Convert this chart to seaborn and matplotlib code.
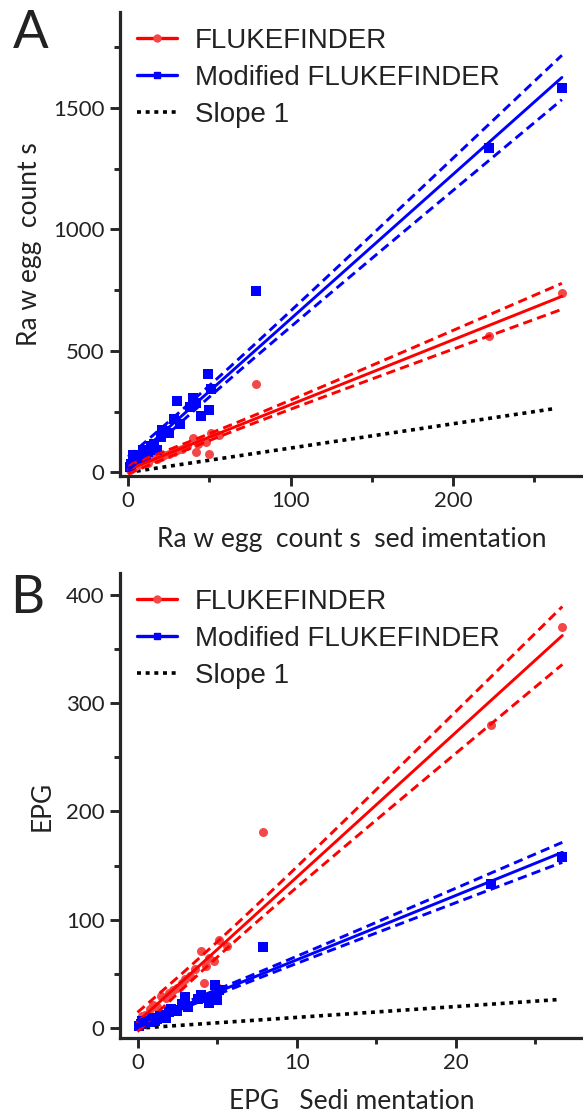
import numpy as np
import matplotlib
matplotlib.use("Agg")
import matplotlib.pyplot as plt
from matplotlib.lines import Line2D
from matplotlib.ticker import MultipleLocator
import seaborn as sns

# ---- data ----
# panel A: raw egg counts, sedimentation (x) vs flotation methods (y)
raw_sed_ff = [1, 3, 5, 8, 10, 12, 15, 18, 20, 22, 25, 28, 30, 33, 36, 40, 42, 43,
              45, 48, 50, 51, 56, 79, 222, 267]
raw_ff = [8, 22, 25, 35, 42, 40, 60, 55, 65, 70, 75, 84, 90, 97, 110, 143, 84, 115,
          130, 125, 77, 162, 152, 362, 560, 740]
raw_sed_mod = [1, 2, 3, 5, 8, 9, 11, 12, 14, 16, 18, 20, 21, 22, 25, 28, 30, 32, 38,
               40, 42, 45, 49, 50, 51, 79, 222, 267]
raw_mod = [20, 35, 70, 45, 60, 91, 63, 85, 110, 118, 91, 146, 176, 170, 160, 220, 292,
           200, 270, 308, 284, 231, 404, 256, 345, 746, 1335, 1582]

# panel B: eggs per gram
epg_sed_ff = [0.1, 0.3, 0.5, 0.8, 1.0, 1.2, 1.5, 1.8, 2.0, 2.2, 2.5, 2.8, 3.0, 3.3,
              3.6, 4.0, 4.2, 4.3, 4.5, 4.8, 5.0, 5.1, 5.6, 7.9, 22.2, 26.7]
epg_ff = [4, 11, 12.5, 17.5, 21, 20, 30, 27.5, 32.5, 35, 37.5, 42, 45, 48.5, 55, 71.5,
          42, 57.5, 65, 62.5, 38.5, 81, 76, 181, 280, 370]
epg_sed_mod = [0.1, 0.2, 0.3, 0.5, 0.8, 0.9, 1.1, 1.2, 1.4, 1.6, 1.8, 2.0, 2.1, 2.2,
               2.5, 2.8, 3.0, 3.2, 3.8, 4.0, 4.2, 4.5, 4.9, 5.0, 5.1, 7.9, 22.2, 26.7]
epg_mod = [2, 3.5, 7, 4.5, 6, 9, 6.3, 8.5, 11, 11.8, 9, 14.6, 17.6, 17, 16, 22, 29,
           20, 27, 31, 28, 23, 40, 26, 35, 75, 133, 158]

slope1_end_a = 262
slope1_end_b = 26.5

labels = ["FLUKEFINDER", "Modified FLUKEFINDER", "Slope 1"]
RED, RED_PT, BLUE = "#ff0000", "#f24848", "#0000ff"
TICK_FONT = ["Lato", "DejaVu Sans"]
LEG_FONT = ["Liberation Sans", "DejaVu Sans"]
DOTS = (1.1, 1.3)


# least squares fit plus 95% confidence band of the line
def fit_band(x, y, t=2.06):
    x = np.asarray(x, float)
    y = np.asarray(y, float)
    slope, icpt = np.polyfit(x, y, 1)
    resid = y - (slope * x + icpt)
    s = np.sqrt(np.sum(resid ** 2) / (len(x) - 2))
    xs = np.linspace(0, x.max(), 100)
    fit = slope * xs + icpt
    se = s * np.sqrt(1 / len(x) + (xs - x.mean()) ** 2 / np.sum((x - x.mean()) ** 2))
    return xs, fit, fit - t * se, fit + t * se


def draw_series(ax, x, y, color, pt_color, marker, ms):
    sns.scatterplot(x=x, y=y, ax=ax, color=pt_color, marker=marker, s=ms,
                    linewidth=0, zorder=3)
    xs, fit, lo, hi = fit_band(x, y)
    ax.plot(xs, fit, color=color, lw=2.1, zorder=4)
    for band in (lo, hi):
        ax.plot(xs, band, color=color, lw=2.1, dashes=(3.2, 1.8), zorder=4)


def style_axis(ax, xlab, ylab):
    sns.despine(ax=ax)
    for side in ("left", "bottom"):
        ax.spines[side].set_linewidth(2.3)
    ax.tick_params(which="major", length=7, width=2.1, labelsize=16, pad=4,
                   labelcolor="#222222")
    ax.tick_params(which="minor", length=4.5, width=2.1)
    for lab in ax.get_xticklabels() + ax.get_yticklabels():
        lab.set_family(TICK_FONT)
    ax.set_xlabel(xlab, fontsize=19, family=TICK_FONT, color="#222222", labelpad=11)
    ax.set_ylabel(ylab, fontsize=19, family=TICK_FONT, color="#222222", labelpad=8)
    handles = [
        Line2D([], [], color=RED, lw=2.4, marker="o", ms=5, mfc=RED_PT, mec=RED_PT),
        Line2D([], [], color=BLUE, lw=2.4, marker="s", ms=5),
        Line2D([], [], color="black", lw=2.6, dashes=DOTS),
    ]
    ax.legend(handles, labels, loc="upper left", bbox_to_anchor=(0.012, 0.99),
              borderaxespad=0, frameon=False, handlelength=1.45, handletextpad=0.65,
              labelspacing=0.4, prop={"family": LEG_FONT, "size": 20},
              labelcolor="#222222")


sns.set_style("ticks")
fig = plt.figure(figsize=(5.83, 11.15), dpi=100)
W, H = 583, 1115
axA = fig.add_axes([120 / W, 1 - 476 / H, 463 / W, (476 - 12) / H])
axB = fig.add_axes([120 / W, 1 - 1038 / H, 463 / W, (1038 - 573) / H])

# panel A
draw_series(axA, raw_sed_ff, raw_ff, RED, RED_PT, "o", 42)
draw_series(axA, raw_sed_mod, raw_mod, BLUE, BLUE, "s", 48)
axA.plot([0, slope1_end_a], [0, slope1_end_a], color="black", lw=2.6,
         dashes=DOTS, zorder=2)
axA.set_xlim(-5, 280)
axA.set_ylim(-15, 1895)
axA.xaxis.set_major_locator(MultipleLocator(100))
axA.xaxis.set_minor_locator(MultipleLocator(50))
axA.yaxis.set_major_locator(MultipleLocator(500))
axA.yaxis.set_minor_locator(MultipleLocator(250))
style_axis(axA, "Ra w egg  count s  sed imentation", "Ra w egg  count s")

# panel B
draw_series(axB, epg_sed_ff, epg_ff, RED, RED_PT, "o", 42)
draw_series(axB, epg_sed_mod, epg_mod, BLUE, BLUE, "s", 48)
axB.plot([0, slope1_end_b], [0, slope1_end_b], color="black", lw=2.6,
         dashes=DOTS, zorder=2)
axB.set_xlim(-1.1, 28)
axB.set_ylim(-9, 420)
axB.xaxis.set_major_locator(MultipleLocator(10))
axB.xaxis.set_minor_locator(MultipleLocator(5))
axB.yaxis.set_major_locator(MultipleLocator(100))
axB.yaxis.set_minor_locator(MultipleLocator(50))
style_axis(axB, "EPG   Sedi mentation", "EPG")

fig.text(0.022, 1 - 10 / H, "A", fontsize=38, family=TICK_FONT, color="#222222",
         va="top")
fig.text(0.018, 1 - 575 / H, "B", fontsize=38, family=TICK_FONT, color="#222222",
         va="top")

fig.savefig("out.png", dpi=100)
